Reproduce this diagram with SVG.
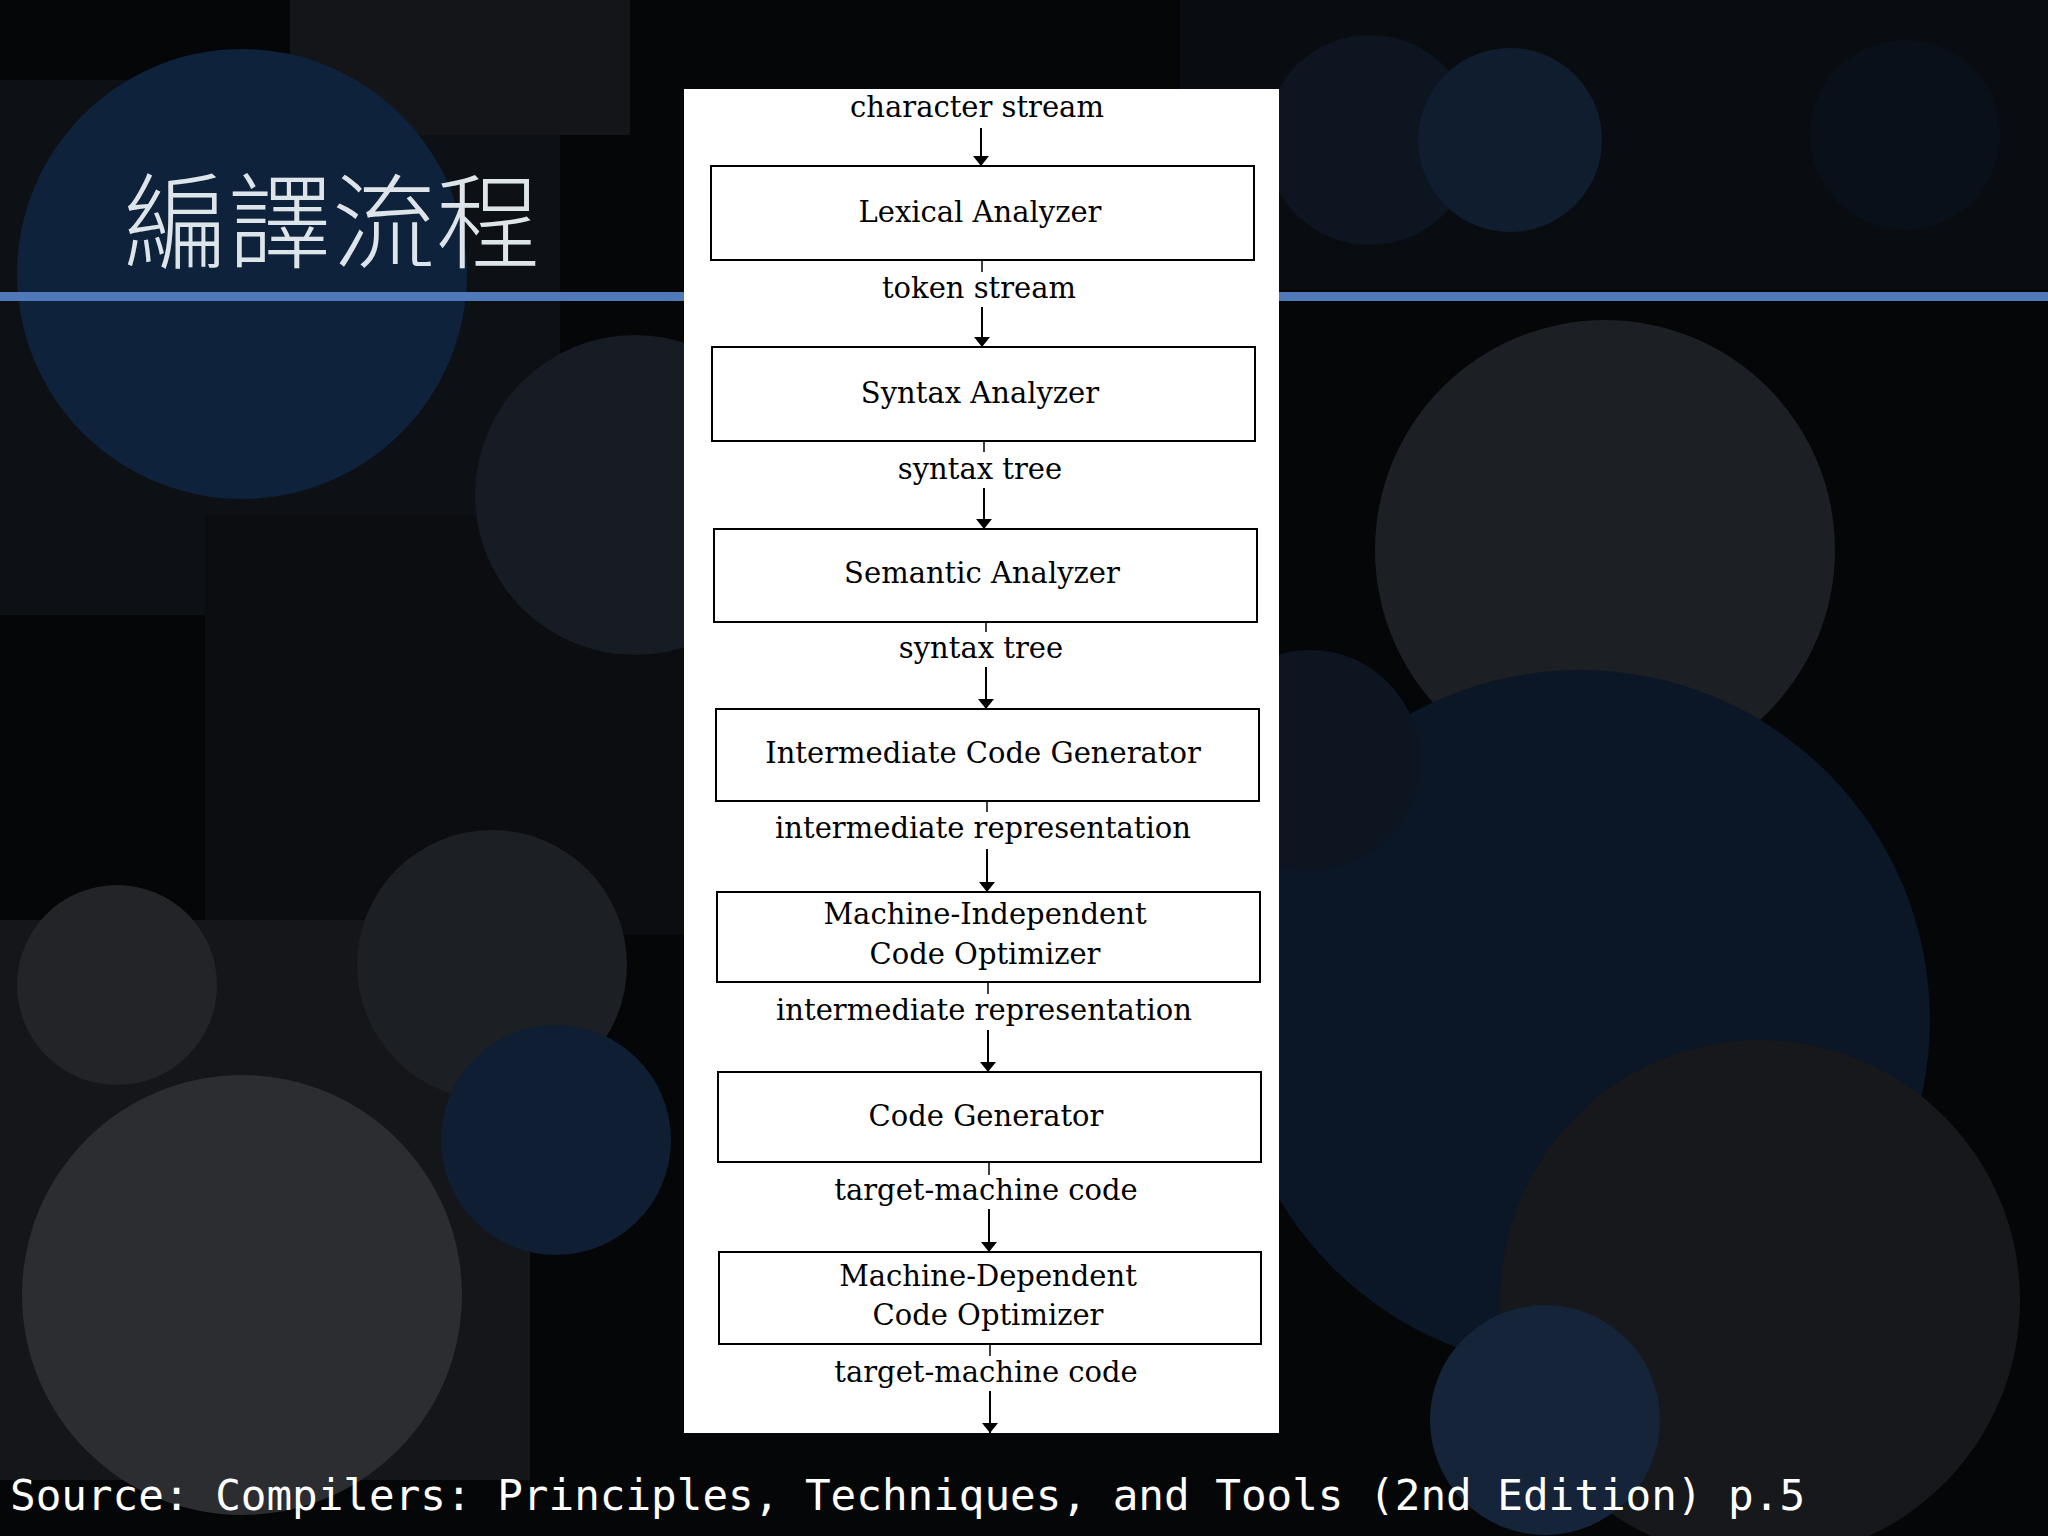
<svg xmlns="http://www.w3.org/2000/svg" width="2048" height="1536" viewBox="0 0 2048 1536">
<defs>
<marker id="ah" viewBox="0 0 10 16" refX="10" refY="8" markerWidth="10" markerHeight="16" markerUnits="userSpaceOnUse" orient="auto"><path d="M0,0 L10,8 L0,16 z" fill="#000"/></marker>
<style>
.box{fill:#fff;stroke:#000;stroke-width:2}
.t{font-family:"DejaVu Serif","Liberation Serif",serif;font-size:29px;fill:#000;text-anchor:middle}
.c{stroke:#000;stroke-width:2;fill:none;marker-end:url(#ah)}
.k{stroke:#000;stroke-width:1.5;fill:none}
</style>
</defs>
<rect width="2048" height="1536" fill="#050608"/>
<g id="bg">
<rect x="0" y="80" width="560" height="535" fill="#0d1015"/>
<rect x="290" y="0" width="340" height="135" fill="#131518"/>
<rect x="205" y="515" width="480" height="420" fill="#0b0d11"/>
<rect x="0" y="920" width="530" height="560" fill="#141619"/>
<rect x="1180" y="0" width="868" height="290" fill="#090c10"/>
<circle cx="242" cy="274" r="225" fill="#0e223b"/>
<circle cx="635" cy="495" r="160" fill="#161b24"/>
<circle cx="1605" cy="550" r="230" fill="#1c1f23"/>
<circle cx="1580" cy="1020" r="350" fill="#0b1626"/>
<circle cx="1760" cy="1300" r="260" fill="#16181c"/>
<circle cx="1310" cy="760" r="110" fill="#0c1520"/>
<circle cx="492" cy="965" r="135" fill="#1c1f23"/>
<circle cx="117" cy="985" r="100" fill="#222428"/>
<circle cx="242" cy="1295" r="220" fill="#2c2d30"/>
<circle cx="556" cy="1140" r="115" fill="#0f1e33"/>
<circle cx="1370" cy="140" r="105" fill="#0c1520"/>
<circle cx="1510" cy="140" r="92" fill="#101d2f"/>
<circle cx="1905" cy="135" r="95" fill="#0a1019"/>
<circle cx="1545" cy="1420" r="115" fill="#152438"/>
</g>
<rect x="0" y="292" width="2048" height="9" fill="#4f79b8"/>
<text x="124" y="261" font-family="'Noto Sans CJK TC','Noto Sans CJK SC',serif" font-size="104" font-weight="300" fill="#dde4ea">編譯流程</text>
<rect x="684" y="89" width="595" height="1344" fill="#fff"/>
<g id="connectors">
<line class="c" x1="981" y1="128" x2="981" y2="166"/>
<line class="k" x1="982" y1="260" x2="982" y2="272"/>
<line class="c" x1="982" y1="307" x2="982" y2="347"/>
<line class="k" x1="984" y1="441" x2="984" y2="452"/>
<line class="c" x1="984" y1="488" x2="984" y2="529"/>
<line class="k" x1="986" y1="622" x2="986" y2="632"/>
<line class="c" x1="986" y1="667" x2="986" y2="709"/>
<line class="k" x1="987" y1="801" x2="987" y2="812"/>
<line class="c" x1="987" y1="849" x2="987" y2="892"/>
<line class="k" x1="988" y1="982" x2="988" y2="994"/>
<line class="c" x1="988" y1="1030" x2="988" y2="1072"/>
<line class="k" x1="989" y1="1162" x2="989" y2="1175"/>
<line class="c" x1="989" y1="1209" x2="989" y2="1252"/>
<line class="k" x1="990" y1="1344" x2="990" y2="1356"/>
<line class="c" x1="990" y1="1391" x2="990" y2="1433"/>
</g>
<text class="t" x="977" y="117">character stream</text>
<text class="t" x="979" y="298">token stream</text>
<text class="t" x="980" y="479">syntax tree</text>
<text class="t" x="981" y="658">syntax tree</text>
<text class="t" x="983" y="838">intermediate representation</text>
<text class="t" x="984" y="1020">intermediate representation</text>
<text class="t" x="986" y="1200">target-machine code</text>
<text class="t" x="986" y="1382">target-machine code</text>
<g id="lexical"><rect class="box" x="711" y="166" width="543" height="94"/><text class="t" x="980" y="222">Lexical Analyzer</text></g>
<g id="syntax"><rect class="box" x="712" y="347" width="543" height="94"/><text class="t" x="980" y="403">Syntax Analyzer</text></g>
<g id="semantic"><rect class="box" x="714" y="529" width="543" height="93"/><text class="t" x="982" y="583">Semantic Analyzer</text></g>
<g id="intermediate"><rect class="box" x="716" y="709" width="543" height="92"/><text class="t" x="983" y="763">Intermediate Code Generator</text></g>
<g id="mi"><rect class="box" x="717" y="892" width="543" height="90"/><text class="t" x="985" y="924">Machine-Independent</text><text class="t" x="985" y="964">Code Optimizer</text></g>
<g id="codegen"><rect class="box" x="718" y="1072" width="543" height="90"/><text class="t" x="986" y="1126">Code Generator</text></g>
<g id="md"><rect class="box" x="719" y="1252" width="542" height="92"/><text class="t" x="988" y="1286">Machine-Dependent</text><text class="t" x="988" y="1325">Code Optimizer</text></g>
<text x="10" y="1510" font-family="'DejaVu Sans Mono','Liberation Mono',monospace" font-size="42.6" fill="#ffffff">Source: Compilers: Principles, Techniques, and Tools (2nd Edition) p.5</text>
</svg>
